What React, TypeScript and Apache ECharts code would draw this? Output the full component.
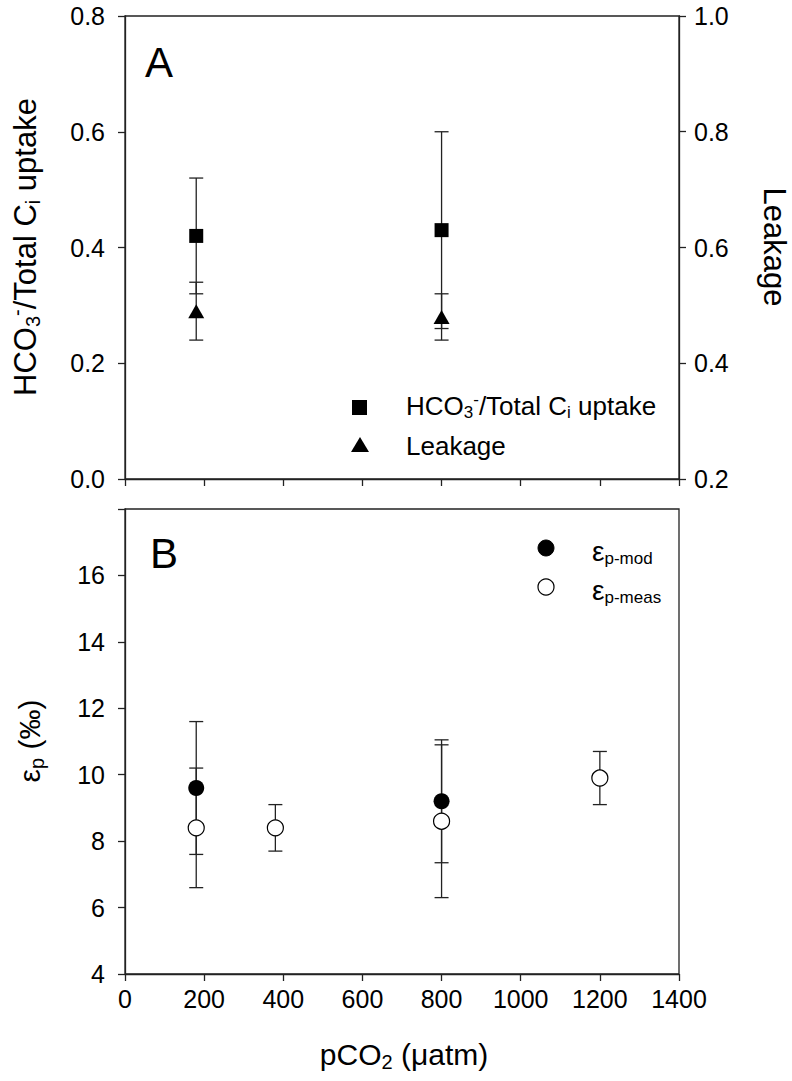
import React, { useEffect, useRef } from "react";
import * as echarts from "echarts";

// ---- data ----
const xTicksMax = 1400;
const hco3X = [180, 800];
const hco3Y = [0.42, 0.43];
const hco3Err = [0.1, 0.17];

const leakX = [180, 800];
const leakY = [0.49, 0.48];
const leakErr = [0.05, 0.04];

const modX = [180, 800];
const modY = [9.6, 9.2];
const modErr = [2.0, 1.85];

const measX = [180, 380, 800, 1200];
const measY = [8.4, 8.4, 8.6, 9.9];
const measErr = [1.8, 0.7, 2.3, 0.8];

const FONT = "'Liberation Sans', Arial, Helvetica, sans-serif";
const LINE = "#222";

const pts = (xs: number[], ys: number[]) => xs.map((x, i) => [x, ys[i]]);
const errs = (xs: number[], ys: number[], es: number[]) =>
  xs.map((x, i) => [x, ys[i] - es[i], ys[i] + es[i]]);

const errorRender = (params: any, api: any) => {
  const x = api.value(0);
  const lo = api.coord([x, api.value(1)]);
  const hi = api.coord([x, api.value(2)]);
  const w = 7;
  const style = { stroke: LINE, lineWidth: 1.3 };
  return {
    type: "group",
    children: [
      { type: "line", shape: { x1: lo[0], y1: lo[1], x2: hi[0], y2: hi[1] }, style },
      { type: "line", shape: { x1: lo[0] - w, y1: lo[1], x2: lo[0] + w, y2: lo[1] }, style },
      { type: "line", shape: { x1: hi[0] - w, y1: hi[1], x2: hi[0] + w, y2: hi[1] }, style },
    ],
  };
};

const lineStyle = { color: LINE, width: 1.3 };

const xAxisBase = {
  type: "value",
  min: 0,
  max: xTicksMax,
  interval: 200,
  axisLine: { show: true, onZero: false, lineStyle },
  axisTick: { show: true, inside: false, length: 7, lineStyle },
  splitLine: { show: false },
};

const yAxisBase = {
  type: "value",
  axisLine: { show: true, onZero: false, lineStyle },
  axisTick: { show: true, inside: false, length: 7, lineStyle },
  splitLine: { show: false },
};

const labelStyle = { fontSize: 25, lineHeight: 24, color: "#000", fontFamily: FONT };

const txt = (x: number, y: number, text: string, rich: any, opts: any = {}) => ({
  type: "text",
  x,
  y,
  rotation: opts.rotation || 0,
  style: {
    legacy: false,
    text,
    fill: "#000",
    fontSize: opts.fontSize || 30,
    fontFamily: FONT,
    align: opts.align || "center",
    verticalAlign: "middle",
    rich,
  },
});

const titleRich = (main: number, sub: number, lh: number) => ({
  m: { fontSize: main, fontFamily: FONT, fill: "#000", lineHeight: lh, verticalAlign: "middle" },
  s: { fontSize: sub, fontFamily: FONT, fill: "#000", lineHeight: sub, verticalAlign: "bottom" },
  u: { fontSize: sub, fontFamily: FONT, fill: "#000", lineHeight: sub, verticalAlign: "top" },
});

export default function App() {
  const ref = useRef<HTMLDivElement>(null);
  useEffect(() => {
    if (!ref.current) return;
    const chart = echarts.init(ref.current, undefined, { renderer: "svg" });
    const option: any = {
      animation: false,
      backgroundColor: "#fff",
      grid: [
        { left: 125, top: 16, width: 554, height: 463, show: true, borderColor: LINE, borderWidth: 1.3, backgroundColor: "transparent" },
        { left: 125, top: 509, width: 554, height: 465, show: true, borderColor: LINE, borderWidth: 1.3, backgroundColor: "transparent" },
      ],
      xAxis: [
        { ...xAxisBase, gridIndex: 0, axisLabel: { show: false } },
        { ...xAxisBase, gridIndex: 1, axisLabel: { ...labelStyle, margin: 13, formatter: (v: number) => String(v) } },
      ],
      yAxis: [
        {
          ...yAxisBase, gridIndex: 0, position: "left", min: 0, max: 0.8, interval: 0.2,
          axisLabel: { ...labelStyle, margin: 20, formatter: (v: number) => v.toFixed(1) },
        },
        {
          ...yAxisBase, gridIndex: 0, position: "right", min: 0.2, max: 1.0, interval: 0.2,
          axisLabel: { ...labelStyle, margin: 15, formatter: (v: number) => v.toFixed(1) },
        },
        {
          ...yAxisBase, gridIndex: 1, position: "left", min: 4, max: 18, interval: 2,
          axisLabel: { ...labelStyle, margin: 20, formatter: (v: number) => (v === 18 ? "" : String(v)) },
        },
      ],
      series: [
        { type: "custom", xAxisIndex: 0, yAxisIndex: 0, z: 2, renderItem: errorRender, data: errs(hco3X, hco3Y, hco3Err), encode: { x: 0, y: [1, 2] } },
        { type: "custom", xAxisIndex: 0, yAxisIndex: 1, z: 2, renderItem: errorRender, data: errs(leakX, leakY, leakErr), encode: { x: 0, y: [1, 2] } },
        { type: "scatter", name: "HCO3", xAxisIndex: 0, yAxisIndex: 0, z: 3, symbol: "rect", symbolSize: 14, itemStyle: { color: "#000", opacity: 1 }, data: pts(hco3X, hco3Y) },
        { type: "scatter", name: "Leakage", xAxisIndex: 0, yAxisIndex: 1, z: 3, symbol: "triangle", symbolSize: [16, 14], itemStyle: { color: "#000", opacity: 1 }, data: pts(leakX, leakY) },
        { type: "custom", xAxisIndex: 1, yAxisIndex: 2, z: 2, renderItem: errorRender, data: errs(modX, modY, modErr), encode: { x: 0, y: [1, 2] } },
        { type: "custom", xAxisIndex: 1, yAxisIndex: 2, z: 2, renderItem: errorRender, data: errs(measX, measY, measErr), encode: { x: 0, y: [1, 2] } },
        { type: "scatter", name: "meas", xAxisIndex: 1, yAxisIndex: 2, z: 3, symbol: "circle", symbolSize: 16, itemStyle: { color: "#fff", borderColor: "#000", borderWidth: 1.2, opacity: 1 }, data: pts(measX, measY) },
        { type: "scatter", name: "mod", xAxisIndex: 1, yAxisIndex: 2, z: 3, symbol: "circle", symbolSize: 16, itemStyle: { color: "#000", opacity: 1 }, data: pts(modX, modY) },
      ],
      graphic: [
        txt(159, 62, "A", undefined, { fontSize: 42 }),
        txt(164, 553, "B", undefined, { fontSize: 42 }),
        txt(25, 247, "{m|HCO}{s|3}{u|-}{m|/Total C}{s|i}{m| uptake}", titleRich(31, 20, 36), { rotation: Math.PI / 2 }),
        txt(774, 247, "{m|Leakage}", titleRich(31, 20, 36), { rotation: -Math.PI / 2 }),
        txt(29, 741, "{m|ε}{s|p}{m| (‰)}", titleRich(30, 20, 36), { rotation: Math.PI / 2 }),
        txt(404, 1054, "{m|pCO}{s|2}{m| (μatm)}", titleRich(30, 20, 36)),
        // legend top
        { type: "rect", shape: { x: 352, y: 400, width: 15, height: 15 }, style: { fill: "#000" } },
        { type: "polygon", shape: { points: [[360, 437], [351, 452], [369, 452]] }, style: { fill: "#000" } },
        txt(406, 406, "{m|HCO}{s|3}{u|-}{m|/Total C}{s|i}{m| uptake}", titleRich(26, 17, 30), { align: "left", fontSize: 26 }),
        txt(406, 446, "{m|Leakage}", titleRich(26, 17, 30), { align: "left", fontSize: 26 }),
        // legend bottom
        { type: "circle", shape: { cx: 546, cy: 548, r: 8 }, style: { fill: "#000", stroke: "#000", lineWidth: 1 } },
        { type: "circle", shape: { cx: 546, cy: 587, r: 8 }, style: { fill: "#fff", stroke: "#000", lineWidth: 1.2 } },
        txt(592, 551, "{m|ε}{s|p-mod}", titleRich(28, 17, 32), { align: "left", fontSize: 28 }),
        txt(592, 590, "{m|ε}{s|p-meas}", titleRich(28, 17, 32), { align: "left", fontSize: 28 }),
      ],
    };
    chart.setOption(option);
    return () => chart.dispose();
  }, []);
  return (
    <div
      ref={ref}
      style={{ position: "absolute", left: 0, top: 0, width: 792, height: 1081, background: "#fff" }}
    />
  );
}
